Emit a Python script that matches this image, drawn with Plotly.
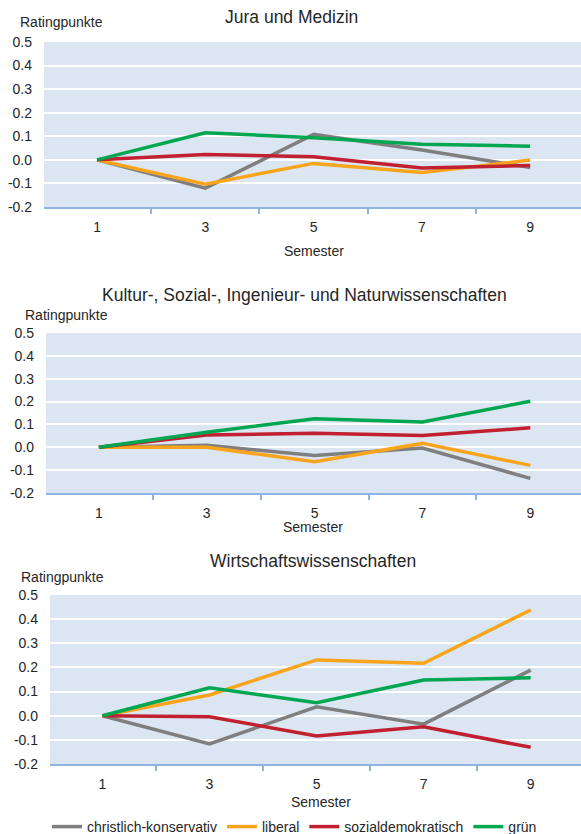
import plotly.graph_objects as go

# Semester categories on the x axis
semester = ["1", "3", "5", "7", "9"]

# Change in rating points per political orientation, by faculty group
jura_konservativ = [0.0, -0.120, 0.108, 0.042, -0.032]
jura_liberal = [0.0, -0.103, -0.015, -0.054, -0.001]
jura_sozial = [0.0, 0.023, 0.013, -0.035, -0.024]
jura_gruen = [0.0, 0.115, 0.094, 0.066, 0.058]

kultur_konservativ = [0.0, 0.009, -0.036, -0.003, -0.136]
kultur_liberal = [0.0, 0.000, -0.063, 0.017, -0.079]
kultur_sozial = [0.0, 0.054, 0.061, 0.052, 0.085]
kultur_gruen = [0.0, 0.066, 0.125, 0.111, 0.201]

wiwi_konservativ = [0.0, -0.117, 0.037, -0.035, 0.189]
wiwi_liberal = [0.0, 0.086, 0.231, 0.217, 0.438]
wiwi_sozial = [0.0, -0.004, -0.084, -0.046, -0.131]
wiwi_gruen = [0.0, 0.116, 0.054, 0.148, 0.157]

series_names = ["christlich-konservativ", "liberal", "sozialdemokratisch", "grün"]
panel_titles = [
    "Jura und Medizin",
    "Kultur-, Sozial-, Ingenieur- und Naturwissenschaften",
    "Wirtschaftswissenschaften",
]
y_tickvals = [-0.2, -0.1, 0.0, 0.1, 0.2, 0.3, 0.4, 0.5]
y_ticktext = ["-0.2", "-0.1", "0.0", "0.1", "0.2", "0.3", "0.4", "0.5"]

colors = ["#7F7F7F", "#F8A51D", "#C0202F", "#00A650"]

W, H = 581, 834
FONT = "Liberation Sans, Arial, sans-serif"
TEXT = "#262626"


def fx(px):
    return px / W


def fy(px):
    return 1 - px / H


# Panel geometry in pixels: plot left edge, top (0.5) and bottom (-0.2),
# title centre, y label position, x-axis title position
panels = [
    dict(left=44, top=42, bottom=207, title_x=291, title_y=17,
         rp_x=18, rp_y=22, sem_x=314, sem_y=251,
         data=[jura_konservativ, jura_liberal, jura_sozial, jura_gruen]),
    dict(left=46, top=333, bottom=493, title_x=304, title_y=295,
         rp_x=23, rp_y=315, sem_x=313, sem_y=527,
         data=[kultur_konservativ, kultur_liberal, kultur_sozial, kultur_gruen]),
    dict(left=50, top=595, bottom=764, title_x=313, title_y=561,
         rp_x=19, rp_y=577, sem_x=321, sem_y=802,
         data=[wiwi_konservativ, wiwi_liberal, wiwi_sozial, wiwi_gruen]),
]

fig = go.Figure()
annotations = []

for i, p in enumerate(panels):
    n = "" if i == 0 else str(i + 1)
    xa, ya = "x" + n, "y" + n
    for name, vals, col in zip(series_names, p["data"], colors):
        fig.add_trace(go.Scatter(
            x=semester, y=vals, mode="lines", name=name,
            line=dict(color=col, width=3.5),
            xaxis=xa, yaxis=ya,
            showlegend=(i == 2),
        ))

    fig.update_layout({
        "xaxis" + n: dict(
            domain=[fx(p["left"]), 1], anchor=ya,
            type="category", range=[-0.49, 4.47],
            tickson="boundaries", ticks="outside", ticklen=5,
            tickwidth=1.5, tickcolor="#8EB4E3",
            showline=True, linecolor="#8EB4E3", linewidth=1.5,
            showgrid=False, ticklabelstandoff=6,
            tickfont=dict(family=FONT, size=14, color=TEXT),
        ),
        "yaxis" + n: dict(
            domain=[fy(p["bottom"]), fy(p["top"])], anchor=xa,
            range=[-0.2, 0.5], tickvals=y_tickvals, ticktext=y_ticktext,
            showgrid=True, gridcolor="white", gridwidth=2,
            zeroline=False, showline=False, ticks="",
            ticklabelstandoff=11,
            tickfont=dict(family=FONT, size=14, color=TEXT),
        ),
    })

    annotations.append(dict(
        text=panel_titles[i], xref="paper", yref="paper",
        x=fx(p["title_x"]), y=fy(p["title_y"]),
        xanchor="center", yanchor="middle", showarrow=False,
        font=dict(family=FONT, size=17.5, color=TEXT),
    ))
    annotations.append(dict(
        text="Ratingpunkte", xref="paper", yref="paper",
        x=fx(p["rp_x"]), y=fy(p["rp_y"]),
        xanchor="left", yanchor="middle", showarrow=False,
        font=dict(family=FONT, size=14, color=TEXT),
    ))
    annotations.append(dict(
        text="Semester", xref="paper", yref="paper",
        x=fx(p["sem_x"]), y=fy(p["sem_y"]),
        xanchor="center", yanchor="middle", showarrow=False,
        font=dict(family=FONT, size=14, color=TEXT),
    ))

fig.update_layout(
    width=W, height=H,
    margin=dict(l=0, r=0, t=0, b=0, autoexpand=False),
    paper_bgcolor="white",
    plot_bgcolor="#DCE6F2",
    annotations=annotations,
    legend=dict(
        orientation="h", x=fx(47), y=fy(827),
        xanchor="left", yanchor="middle",
        font=dict(family=FONT, size=14, color=TEXT),
        itemwidth=30, tracegroupgap=0,
        bgcolor="rgba(0,0,0,0)",
    ),
    hovermode=False,
)

fig.write_html("out.html")
